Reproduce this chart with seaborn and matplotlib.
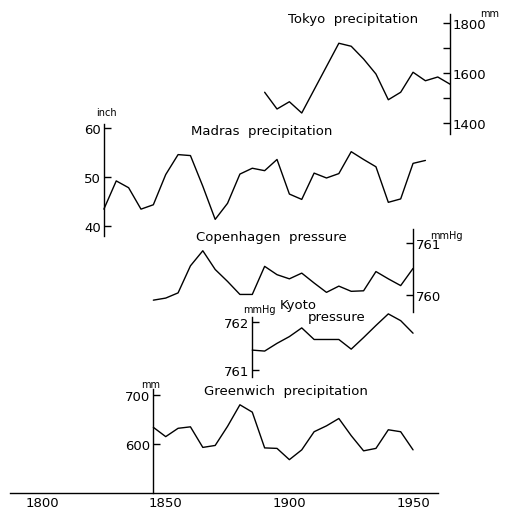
import matplotlib
matplotlib.use("Agg")
import matplotlib.pyplot as plt
import seaborn as sns
import pandas as pd

sns.set_theme(style="white")
plt.rcParams["font.family"] = ["DejaVu Sans"]

# ---------------- data ----------------
tokyo_years = [1890, 1895, 1900, 1905, 1910, 1915, 1920, 1925, 1930, 1935,
               1940, 1945, 1950, 1955, 1960, 1965]
tokyo_mm = [1523, 1456, 1485, 1440, 1533, 1626, 1719, 1707, 1656, 1596,
            1493, 1523, 1603, 1569, 1584, 1555]

madras_years = [1825, 1830, 1835, 1840, 1845, 1850, 1855, 1860, 1865, 1870,
                1875, 1880, 1885, 1890, 1895, 1900, 1905, 1910, 1915, 1920,
                1925, 1930, 1935, 1940, 1945, 1950, 1955]
madras_inch = [43.4, 49.2, 47.8, 43.4, 44.3, 50.5, 54.6, 54.4, 48.1, 41.3,
               44.6, 50.6, 51.8, 51.3, 53.6, 46.5, 45.4, 50.8, 49.8, 50.7,
               55.2, 53.6, 52.1, 44.8, 45.5, 52.8, 53.4]

copen_years = [1845, 1850, 1855, 1860, 1865, 1870, 1875, 1880, 1885, 1890,
               1895, 1900, 1905, 1910, 1915, 1920, 1925, 1930, 1935, 1940,
               1945, 1950]
copen_mmhg = [759.90, 759.94, 760.04, 760.56, 760.85, 760.49, 760.26, 760.01,
              760.01, 760.55, 760.39, 760.31, 760.42, 760.23, 760.05, 760.17,
              760.07, 760.08, 760.45, 760.31, 760.18, 760.51]

kyoto_years = [1885, 1890, 1895, 1900, 1905, 1910, 1915, 1920, 1925, 1930,
               1935, 1940, 1945, 1950]
kyoto_mmhg = [761.41, 761.39, 761.55, 761.69, 761.87, 761.63, 761.63, 761.63,
              761.43, 761.67, 761.92, 762.16, 762.02, 761.76]

green_years = [1845, 1850, 1855, 1860, 1865, 1870, 1875, 1880, 1885, 1890,
               1895, 1900, 1905, 1910, 1915, 1920, 1925, 1930, 1935, 1940,
               1945, 1950]
green_mm = [634, 615, 632, 635, 593, 597, 636, 680, 665, 592,
            591, 568, 588, 625, 637, 652, 617, 586, 591, 629,
            625, 588]

x_ticks = [1800, 1850, 1900, 1950]

# ---------------- figure ----------------
W = H = 510
fig = plt.figure(figsize=(5.1, 5.1), dpi=100)
XLIM = (1783.0, 1989.2)
LW = 1.0
TICKFS = 9.5


def px(x, y):
    return x / W, 1 - y / H


def panel(years, vals, ylim, side, at, bounds, ticks, labels):
    ax = fig.add_axes([0, 0, 1, 1])
    ax.patch.set_alpha(0)
    df = pd.DataFrame({"year": years, "v": vals})
    sns.lineplot(data=df, x="year", y="v", ax=ax, color="black", lw=LW)
    ax.set_xlim(XLIM)
    ax.set_ylim(ylim)
    ax.set(xlabel="", ylabel="")
    ax.set_xticks([])
    for s in ["top", "bottom", "left", "right"]:
        ax.spines[s].set_visible(s == side)
    sp = ax.spines[side]
    sp.set_position(("data", at))
    sp.set_bounds(*bounds)
    sp.set_linewidth(LW)
    sp.set_color("black")
    if side == "right":
        ax.yaxis.tick_right()
    else:
        ax.yaxis.tick_left()
    ax.set_yticks(ticks)
    ax.set_yticklabels(labels)
    ax.tick_params(axis="y", direction="in", length=5, width=LW,
                   color="black", pad=2, labelsize=TICKFS,
                   labelcolor="black")
    ax.grid(False)
    return ax


# Base axis (years)
ax0 = fig.add_axes([0, 0, 1, 1])
ax0.patch.set_alpha(0)
ax0.set_xlim(XLIM)
ax0.set_ylim(H, 0)
for s in ["top", "left", "right"]:
    ax0.spines[s].set_visible(False)
ax0.spines["bottom"].set_position(("data", 494))
ax0.spines["bottom"].set_bounds(1787, 1960)
ax0.spines["bottom"].set_linewidth(LW)
ax0.spines["bottom"].set_color("black")
ax0.set_yticks([])
ax0.set_xticks(x_ticks)
ax0.set_xticklabels([str(t) for t in x_ticks])
ax0.tick_params(axis="x", direction="in", length=5, width=LW, color="black",
                pad=2, labelsize=TICKFS, labelcolor="black")
ax0.grid(False)

# Tokyo precipitation (right axis)
panel(tokyo_years, tokyo_mm, (-144, 1896), "right", 1965.0, (1356, 1836),
      [1400, 1500, 1600, 1700, 1800], ["1400", "", "1600", "", "1800"])
# Madras precipitation (left axis)
panel(madras_years, madras_inch, (-18.17, 86.55), "left", 1824.9, (37.9, 60.9),
      [40, 50, 60], ["40", "50", "60"])
# Copenhagen pressure (right axis)
panel(copen_years, copen_mmhg, (755.885, 765.69), "right", 1950.1,
      (759.67, 761.27), [760, 761], ["760", "761"])
# Kyoto pressure (left axis)
panel(kyoto_years, kyoto_mmhg, (758.12, 768.68), "left", 1884.9,
      (760.86, 762.1), [761, 762], ["761", "762"])
# Greenwich precipitation (left axis)
panel(green_years, green_mm, (467.3, 1508.2), "left", 1845.0, (500, 712),
      [600, 700], ["600", "700"])

# Titles and units
TFS = 9.5
UFS = 7
texts = [
    ("Tokyo  precipitation", 353, 19, TFS),
    ("Madras  precipitation", 262, 131, TFS),
    ("Copenhagen  pressure", 271, 238, TFS),
    ("Kyoto", 298, 306, TFS),
    ("pressure", 337, 317, TFS),
    ("Greenwich  precipitation", 286, 392, TFS),
    ("mm", 490, 14, UFS),
    ("inch", 106, 113, UFS),
    ("mmHg", 446, 236, UFS),
    ("mmHg", 259, 310, UFS),
    ("mm", 151, 385, UFS),
]
for t, x, y, fs in texts:
    fx, fy = px(x, y)
    fig.text(fx, fy, t, ha="center", va="center", fontsize=fs, color="black")

fig.savefig("out.png", dpi=100, facecolor="white")
